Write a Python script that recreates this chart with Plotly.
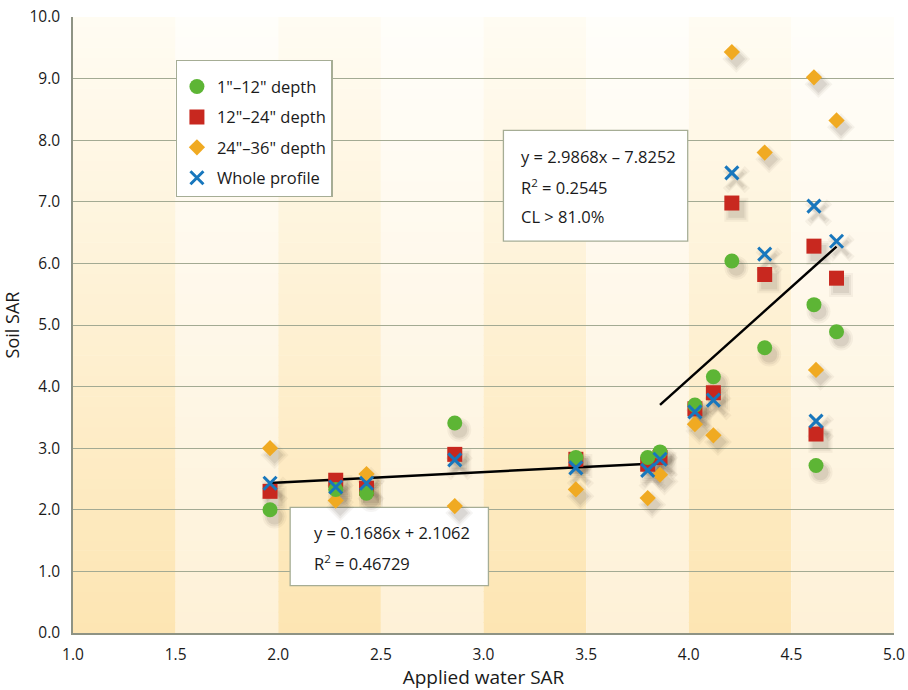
import plotly.graph_objects as go
import numpy as np

# ---- data ----
x_vals = [1.96, 2.28, 2.43, 2.86, 3.45, 3.80, 3.86, 4.03, 4.12, 4.21, 4.37, 4.61, 4.62, 4.72]
depth_1_12 = [2.00, 2.33, 2.27, 3.41, 2.85, 2.85, 2.94, 3.70, 4.16, 6.04, 4.63, 5.33, 2.72, 4.89]
depth_12_24 = [2.30, 2.48, 2.35, 2.90, 2.82, 2.74, 2.85, 3.64, 3.90, 6.98, 5.82, 6.28, 3.23, 5.76]
depth_24_36 = [3.00, 2.15, 2.58, 2.06, 2.33, 2.19, 2.57, 3.39, 3.21, 9.43, 7.80, 9.02, 4.27, 8.32]
whole_profile = [2.43, 2.37, 2.43, 2.81, 2.68, 2.64, 2.82, 3.59, 3.78, 7.47, 6.15, 6.93, 3.44, 6.36]

fit_low = dict(slope=0.1686, intercept=2.1062, x0=1.96, x1=3.86)
fit_high = dict(slope=2.9868, intercept=-7.8252, x0=3.86, x1=4.72)

x_ticks = [1.0, 1.5, 2.0, 2.5, 3.0, 3.5, 4.0, 4.5, 5.0]
y_ticks = [0, 1, 2, 3, 4, 5, 6, 7, 8, 9, 10]

FONT = "Open Sans, Lato, DejaVu Sans, sans-serif"
GREEN = "#5DB535"
RED = "#C8281F"
ORANGE = "#F0AA22"
BLUE = "#1877BD"
TXT = "#1a1a1a"

fig = go.Figure()

# ---- background gradient bands ----
shapes = []
n_strips = 60
dark_bottom, dark_top = (253, 229, 178), (255, 252, 243)
light_bottom, light_top = (254, 241, 215), (255, 254, 250)
for i in range(len(x_ticks) - 1):
    bot, top = (dark_bottom, dark_top) if i % 2 == 0 else (light_bottom, light_top)
    for k in range(n_strips):
        t = (k + 0.5) / n_strips
        c = tuple(int(round(bot[j] + (top[j] - bot[j]) * t)) for j in range(3))
        shapes.append(dict(type="rect", xref="x", yref="y", layer="below",
                           x0=x_ticks[i], x1=x_ticks[i + 1],
                           y0=10 * k / n_strips, y1=10 * (k + 1) / n_strips + 0.01,
                           line=dict(width=0), fillcolor="rgb(%d,%d,%d)" % c))

series = [
    ("24\"–36\" depth", depth_24_36, ORANGE, "diamond", 12.5, 3),
    ("12\"–24\" depth", depth_12_24, RED, "square", 15, 2),
    ("1\"–12\" depth", depth_1_12, GREEN, "circle", 15, 1),
    ("Whole profile", whole_profile, BLUE, "x-thin", 13, 4),
]

# ---- shadows ----
xa = np.array(x_vals)
for name, ys, col, sym, sz, rank in series:
    ya = np.array(ys)
    for grow, alpha in [(9, 0.05), (5, 0.07), (1, 0.09)]:
        sc = "rgba(70,60,40,%.3f)" % alpha
        fig.add_trace(go.Scatter(
            x=xa + 0.022, y=ya - 0.11, mode="markers", showlegend=False, hoverinfo="skip",
            marker=dict(symbol=sym, size=sz + grow, color=sc,
                        line=dict(width=(3 + grow * 0.5) if sym == "x-thin" else 0, color=sc))))

# ---- trend lines ----
for f in (fit_low, fit_high):
    xs = [f["x0"], f["x1"]]
    fig.add_trace(go.Scatter(x=xs, y=[f["slope"] * v + f["intercept"] for v in xs],
                             mode="lines", showlegend=False, hoverinfo="skip",
                             line=dict(color="black", width=2.5)))

# ---- series ----
for name, ys, col, sym, sz, rank in series:
    if sym == "x-thin":
        marker = dict(symbol=sym, size=sz, color=col, line=dict(width=3, color=col))
    else:
        marker = dict(symbol=sym, size=sz, color=col, line=dict(width=0))
    fig.add_trace(go.Scatter(x=x_vals, y=ys, mode="markers", name=name, marker=marker,
                             legendrank=rank, legendgroup=name))

# ---- text boxes ----
BOX = "#A6AD95"
shapes.append(dict(type="rect", xref="x", yref="y", layer="between",
                   x0=3.097, x1=3.995, y0=6.36, y1=8.16,
                   fillcolor="white", line=dict(color=BOX, width=1.3)))
shapes.append(dict(type="rect", xref="x", yref="y", layer="between",
                   x0=2.058, x1=3.024, y0=0.77, y1=2.04,
                   fillcolor="white", line=dict(color=BOX, width=1.3)))

ann = []
box1_lines = ["y = 2.9868x – 7.8252", "R<sup>2</sup> = 0.2545", "CL > 81.0%"]
box1_y = [7.73, 7.24, 6.76]
for t, yy in zip(box1_lines, box1_y):
    ann.append(dict(x=3.175, y=yy, xref="x", yref="y", text=t, showarrow=False,
                    xanchor="left", yanchor="middle",
                    font=dict(family=FONT, size=16.5, color=TXT)))
box2_lines = ["y = 0.1686x + 2.1062", "R<sup>2</sup> = 0.46729"]
box2_y = [1.63, 1.14]
for t, yy in zip(box2_lines, box2_y):
    ann.append(dict(x=2.165, y=yy, xref="x", yref="y", text=t, showarrow=False,
                    xanchor="left", yanchor="middle",
                    font=dict(family=FONT, size=16.5, color=TXT)))

fig.update_layout(
    width=908, height=690,
    margin=dict(l=73, r=14, t=17, b=57),
    paper_bgcolor="white", plot_bgcolor="white",
    font=dict(family=FONT, size=15, color=TXT),
    shapes=shapes, annotations=ann,
    legend=dict(x=0.125, y=0.93, xanchor="left", yanchor="top",
                bgcolor="white", bordercolor=BOX, borderwidth=1.3,
                font=dict(family=FONT, size=16.5, color=TXT),
                title=dict(text=" ", font=dict(size=6)),
                traceorder="grouped", tracegroupgap=6),
    xaxis=dict(range=[1, 5], tickvals=x_ticks, ticktext=["%.1f" % v for v in x_ticks],
               showgrid=False, zeroline=False, showline=True, linecolor="#8E9384", linewidth=2,
               ticks="", ticklabelstandoff=6, automargin=False,
               tickfont=dict(family=FONT, size=15.5, color=TXT),
               title=dict(text="Applied water SAR", font=dict(family=FONT, size=19), standoff=21)),
    yaxis=dict(range=[0, 10], tickvals=y_ticks, ticktext=["%.1f" % v for v in y_ticks],
               showgrid=True, gridcolor="#A3AA93", gridwidth=1.3, zeroline=False,
               showline=True, linecolor="#8E9384", linewidth=1.5,
               ticks="", ticklabelstandoff=8, automargin=False,
               tickfont=dict(family=FONT, size=15.5, color=TXT),
               title=dict(text="Soil SAR", font=dict(family=FONT, size=18), standoff=12)),
    showlegend=True,
)

fig.write_html("out.html")
